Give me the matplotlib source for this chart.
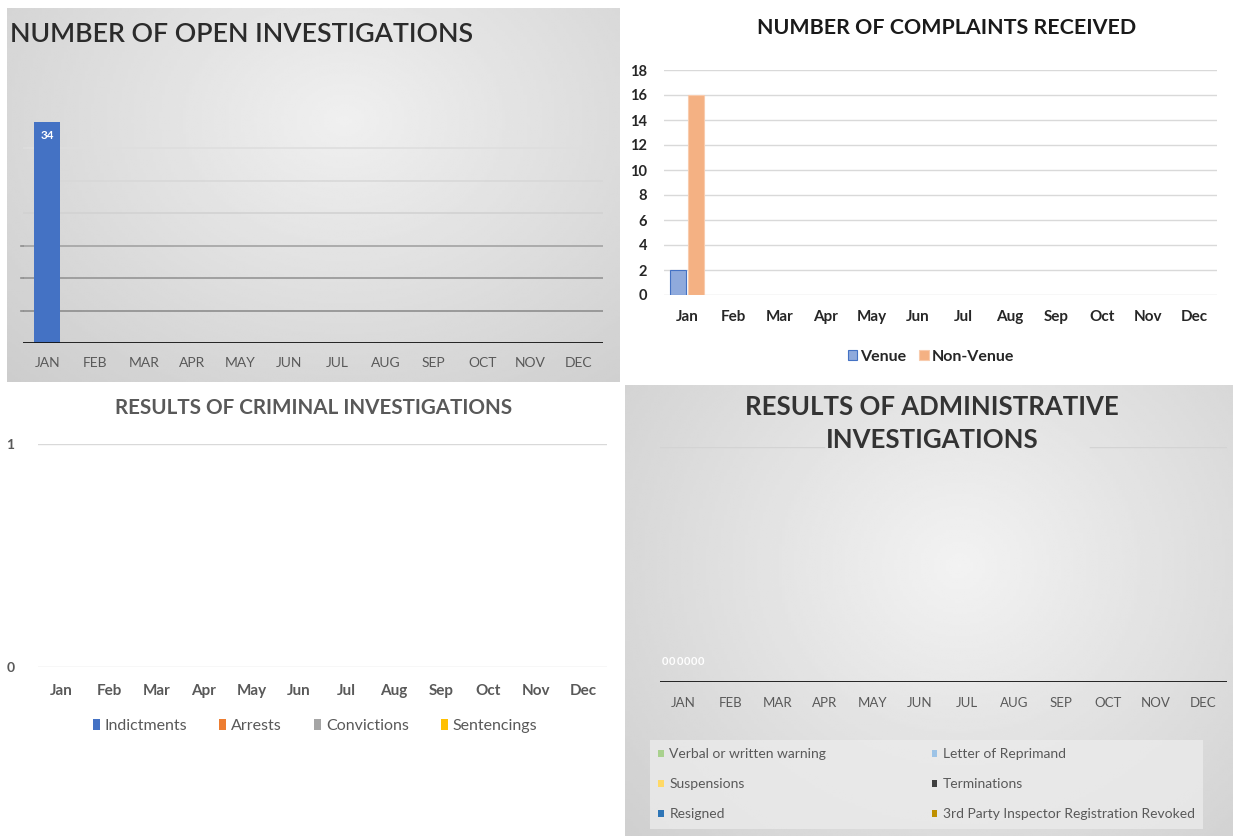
import numpy as np
import matplotlib
matplotlib.use("Agg")
import matplotlib.pyplot as plt
from matplotlib.patches import Patch

W, H = 1233, 836
plt.rcParams['font.family'] = ['Lato', 'DejaVu Sans']

months_upper = ["JAN", "FEB", "MAR", "APR", "MAY", "JUN",
                "JUL", "AUG", "SEP", "OCT", "NOV", "DEC"]
months = ["Jan", "Feb", "Mar", "Apr", "May", "Jun",
          "Jul", "Aug", "Sep", "Oct", "Nov", "Dec"]

# open investigations (only January reported)
open_investigations = [34, np.nan, np.nan, np.nan, np.nan, np.nan,
                       np.nan, np.nan, np.nan, np.nan, np.nan, np.nan]

# complaints received
venue = [2, np.nan, np.nan, np.nan, np.nan, np.nan,
         np.nan, np.nan, np.nan, np.nan, np.nan, np.nan]
non_venue = [16, np.nan, np.nan, np.nan, np.nan, np.nan,
             np.nan, np.nan, np.nan, np.nan, np.nan, np.nan]

# criminal results: no data yet
criminal_series = ["Indictments", "Arrests", "Convictions", "Sentencings"]
criminal_colors = ["#4472c4", "#ed7d31", "#a5a5a5", "#ffc000"]

# administrative results: zero in January for every series
admin_series = ["Verbal or written warning", "Letter of Reprimand",
                "Suspensions", "Terminations",
                "Resigned", "3rd Party Inspector Registration Revoked"]
admin_colors = ["#a9d18e", "#9dc3e6", "#ffd966", "#404040", "#2e75b6", "#bf9000"]
admin_jan = [0, 0, 0, 0, 0, 0]


def px_axes(fig, x0, y0, x1, y1, z=1):
    ax = fig.add_axes([x0 / W, 1 - y1 / H, (x1 - x0) / W, (y1 - y0) / H])
    ax.set_zorder(z)
    return ax


def gradient_bg(fig, x0, y0, x1, y1, light=0.95, dark=0.80, cx=0.55, cy=0.3):
    ax = px_axes(fig, x0, y0, x1, y1, z=0)
    yy, xx = np.mgrid[0:1:200j, 0:1:200j]
    r = np.sqrt(((xx - cx) / 0.8) ** 2 + ((yy - cy) / 1.0) ** 2)
    r = np.clip(r, 0, 1)
    img = light + (dark - light) * r
    ax.imshow(img, cmap="gray", vmin=0, vmax=1, aspect="auto",
              extent=[0, 1, 1, 0], interpolation="bilinear")
    ax.axis("off")
    return ax


def clean(ax):
    ax.patch.set_alpha(0)
    for s in ax.spines.values():
        s.set_visible(False)
    ax.tick_params(length=0)


fig = plt.figure(figsize=(W / 100, H / 100), dpi=100)
fig.patch.set_facecolor("white")

x = np.arange(12)

# ---------- panel 1: open investigations ----------
gradient_bg(fig, 7, 8, 620, 382, light=0.94, dark=0.80)
ax1 = px_axes(fig, 23, 83, 603, 343, z=2)
clean(ax1)
grid_cols = {5: "#8e8e8e", 10: "#959595", 15: "#a3a3a3",
             20: "#d2d2d2", 25: "#d8d8d8", 30: "#dedede"}
for g, c in grid_cols.items():
    ax1.axhline(g, color=c, lw=1.2, zorder=1)
for g in (5, 10, 15):
    ax1.plot([-0.55, -0.5], [g, g], color="#8e8e8e", lw=1.2, clip_on=False)
ax1.axhline(0, color="#111111", lw=2, zorder=3)
ax1.bar(x, open_investigations, width=0.54, color="#4472c4", zorder=2)
for i, v in enumerate(open_investigations):
    if not np.isnan(v):
        ax1.annotate(f"{v:g}", (x[i], v), xytext=(0, -6), textcoords="offset points",
                     ha="center", va="top", color="white", fontsize=8.5, fontweight="bold")
ax1.set_xlim(-0.5, 11.5)
ax1.set_ylim(0, 40)
ax1.set_yticks([])
ax1.set_xticks(x)
ax1.set_xticklabels(months_upper, color="#595959", fontsize=10)
ax1.tick_params(axis="x", pad=10)
fig.text(10 / W, 1 - 35 / H, "NUMBER OF OPEN INVESTIGATIONS", fontsize=19.3,
         fontweight="semibold", color="#2b2b2b", va="center", ha="left", zorder=5)

# ---------- panel 2: complaints received ----------
ax2 = px_axes(fig, 664, 70, 1217, 295, z=2)
clean(ax2)
ax2.set_ylim(0, 18)
ax2.set_yticks(range(0, 19, 2))
ax2.yaxis.grid(True, color="#d9d9d9", lw=1)
ax2.set_axisbelow(True)
bw = 0.35
ax2.bar(x - bw / 2 - 0.02, venue, width=bw, color="#8faadc", edgecolor="#4472c4",
        lw=0.8, label="Venue")
ax2.bar(x + bw / 2 + 0.02, non_venue, width=bw, color="#f4b183", edgecolor="#f8cbad",
        lw=0.8, label="Non-Venue")
ax2.set_xlim(-0.5, 11.5)
ax2.set_xticks(x)
ax2.set_xticklabels(months, fontweight="bold", color="#262626", fontsize=11)
for t in ax2.get_yticklabels():
    t.set_fontweight("bold")
    t.set_color("#262626")
    t.set_fontsize(10.5)
ax2.tick_params(axis="x", pad=11)
ax2.tick_params(axis="y", pad=12)
ax2.legend(loc="center", bbox_to_anchor=(931 / W, 1 - 357 / H),
           bbox_transform=fig.transFigure, ncol=2, frameon=False,
           prop={"weight": "bold", "size": 11.5}, handlelength=0.6,
           handleheight=0.6, handletextpad=0.2, columnspacing=0.8, labelcolor="#262626")
fig.text(947 / W, 1 - 28 / H, "NUMBER OF COMPLAINTS RECEIVED", fontsize=15.4,
         fontweight="bold", color="#1a1a1a", ha="center", va="center")

# ---------- panel 3: criminal investigations ----------
ax3 = px_axes(fig, 38, 444, 607, 667, z=2)
clean(ax3)
ax3.set_ylim(0, 1)
ax3.set_yticks([0, 1])
ax3.yaxis.grid(True, color="#d9d9d9", lw=1)
ax3.set_xlim(-0.5, 11.5)
ax3.set_xticks(x)
ax3.set_xticklabels(months, color="#595959", fontsize=11, fontweight="bold")
for t in ax3.get_yticklabels():
    t.set_color("#595959")
    t.set_fontsize(10)
    t.set_fontweight("bold")
ax3.tick_params(axis="x", pad=12)
ax3.tick_params(axis="y", pad=17)
handles3 = [Patch(facecolor=c, label=s) for s, c in zip(criminal_series, criminal_colors)]
ax3.legend(handles=handles3, loc="center", bbox_to_anchor=(315 / W, 1 - 726 / H),
           bbox_transform=fig.transFigure, ncol=4, frameon=False,
           prop={"size": 11.5}, labelcolor="#595959", handlelength=0.45,
           handleheight=0.7, handletextpad=0.3, columnspacing=2.0)
fig.text(314 / W, 1 - 408 / H, "RESULTS OF CRIMINAL INVESTIGATIONS", fontsize=14.9,
         fontweight="bold", color="#595959", ha="center", va="center")

# ---------- panel 4: administrative investigations ----------
gradient_bg(fig, 625, 385, 1233, 836, light=0.95, dark=0.80, cx=0.55, cy=0.4)
ax4 = px_axes(fig, 659.5, 447, 1226.5, 682, z=2)
clean(ax4)
ax4.set_ylim(0, 1)
ax4.set_xlim(-0.5, 11.5)
ax4.set_yticks([])
# top gridline, partly hidden behind the title
ax4.axhline(1, xmin=0, xmax=0.29, color="#d3d3d3", lw=1)
ax4.axhline(1, xmin=0.76, xmax=1, color="#d3d3d3", lw=1)
ax4.axhline(0, color="#111111", lw=2)
ax4.set_xticks(x)
ax4.set_xticklabels(months_upper, color="#595959", fontsize=9.5)
ax4.tick_params(axis="x", pad=11)
gw = 0.9 / len(admin_series)
for i, v in enumerate(admin_jan):
    xi = x[0] - 0.45 + gw * (i + 0.5)
    ax4.bar(xi, v, width=gw, color=admin_colors[i])
    ax4.annotate(f"{v}", (xi, v), xytext=(0, 11), textcoords="offset points",
                 ha="center", va="bottom", color="white", fontsize=8, fontweight="bold")
order = [0, 2, 4, 1, 3, 5]
handles4 = [Patch(facecolor=admin_colors[k], label=admin_series[k]) for k in order]
leg4 = ax4.legend(handles=handles4, loc="upper left",
                  bbox_to_anchor=(650 / W, 1 - 740 / H),
                  bbox_transform=fig.transFigure, ncol=2,
                  frameon=True, fancybox=False, prop={"size": 10},
                  labelcolor="#595959", handlelength=0.4, handleheight=0.4,
                  handletextpad=0.4, labelspacing=1.3, columnspacing=7.6,
                  borderaxespad=0, borderpad=0.6)
leg4.get_frame().set_facecolor("#ebebeb")
leg4.get_frame().set_edgecolor("none")
leg4.get_frame().set_alpha(0.8)
fig.text(932 / W, 1 - 423.5 / H, "RESULTS OF ADMINISTRATIVE\nINVESTIGATIONS", fontsize=18.5,
         fontweight="bold", color="#333333", ha="center", va="center",
         linespacing=1.45, zorder=5)

fig.savefig("out.png", dpi=100)
